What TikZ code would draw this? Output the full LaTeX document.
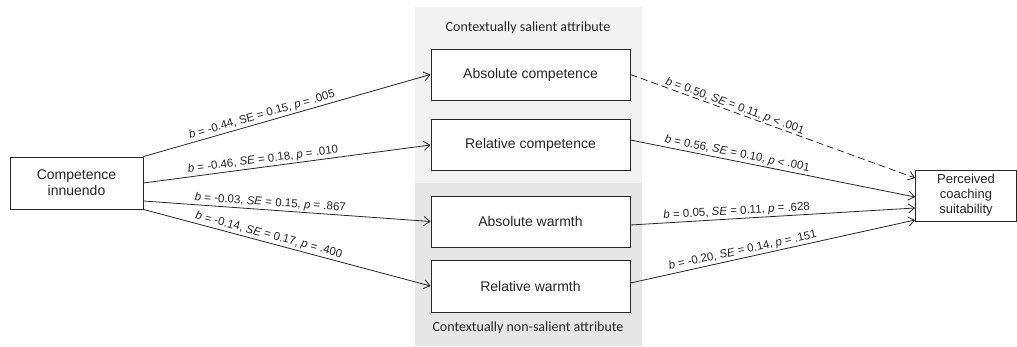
\documentclass[tikz,border=0pt]{standalone}
\usepackage{fontspec}
\setmainfont{Liberation Sans}
\newfontfamily\calib{Carlito}
\usetikzlibrary{arrows.meta}
\definecolor{bgtop}{HTML}{F2F2F2}
\definecolor{bgbot}{HTML}{E6E6E6}
\definecolor{ink}{HTML}{262626}
\begin{document}
\begin{tikzpicture}[x=1pt,y=-1pt,
  box/.style={draw=ink, line width=0.9pt, fill=white, text=ink, font=\fontsize{14}{16}\selectfont, align=center, inner sep=0pt},
  path/.style={draw=ink, line width=0.8pt, -{Straight Barb[length=6pt,width=9pt,line width=0.8pt]}},
  lbl/.style={sloped, above, font=\fontsize{11.5}{13}\selectfont, text=ink, inner sep=1.5pt},
  hdr/.style={font=\calib\fontsize{14}{16}\selectfont, text=ink}]
\useasboundingbox (0,0) rectangle (1017,347);
\fill[bgtop] (415,7) rectangle (642,183);
\fill[bgbot] (415,183) rectangle (642,346);
\node[hdr] (h1) at (528,28) {Contextually salient attribute};
\node[hdr] (h2) at (528,328) {Contextually non-salient attribute};

\node[box, minimum width=133pt, minimum height=52pt] (ci) at (76.5,183) {Competence\\innuendo};
\node[box, minimum width=199pt, minimum height=51pt] (ac) at (530.5,74.5) {Absolute competence};
\node[box, minimum width=199pt, minimum height=51pt] (rc) at (530.5,144.5) {Relative competence};
\node[box, minimum width=199pt, minimum height=51pt] (aw) at (530.5,221.5) {Absolute warmth};
\node[box, minimum width=199pt, minimum height=52pt] (rw) at (530.5,286) {Relative warmth};
\node[box, minimum width=101pt, minimum height=51pt, font=\fontsize{13}{15}\selectfont] (pc) at (966,195.5) {Perceived\\coaching\\suitability};

\draw[path] (ci.north east) -- node[lbl, pos=0.42] {\textit{b} = -0.44, SE = 0.15, \textit{p} = .005} (ac.west);
\draw[path] (ci.east) -- node[lbl, pos=0.42] {\textit{b} = -0.46, \textit{SE} = 0.18, \textit{p} = .010} ([yshift=-0.5pt]rc.west);
\draw[path] ([yshift=-18pt]ci.east) -- node[lbl, pos=0.44] {\textit{b} = -0.03, \textit{SE} = 0.15, \textit{p} = .867} (aw.west);
\draw[path] (ci.south east) -- node[lbl, pos=0.43] {\textit{b} = -0.14, \textit{SE} = 0.17, \textit{p} = .400} (rw.west);

\draw[path, dash pattern=on 7pt off 4pt] (ac.east) -- node[lbl, pos=0.36, inner sep=0pt] {\textit{b} = 0.50, \textit{SE} = 0.11, \textit{p} < .001} ([yshift=17.5pt]pc.west);
\draw[path] ([yshift=4.5pt]rc.east) -- node[lbl, pos=0.37] {\textit{b} = 0.56, \textit{SE} = 0.10, \textit{p} < .001} ([yshift=-1.5pt]pc.west);
\draw[path] ([yshift=-3.5pt]aw.east) -- node[lbl, pos=0.375] {\textit{b} = 0.05, \textit{SE} = 0.11, \textit{p} = .628} ([yshift=-12.5pt]pc.west);
\draw[path] ([yshift=3pt]rw.east) -- node[lbl, pos=0.40] {\textit{b} = -0.20, \textit{SE} = 0.14, \textit{p} = .151} ([yshift=-24.5pt]pc.west);
\end{tikzpicture}
\end{document}
